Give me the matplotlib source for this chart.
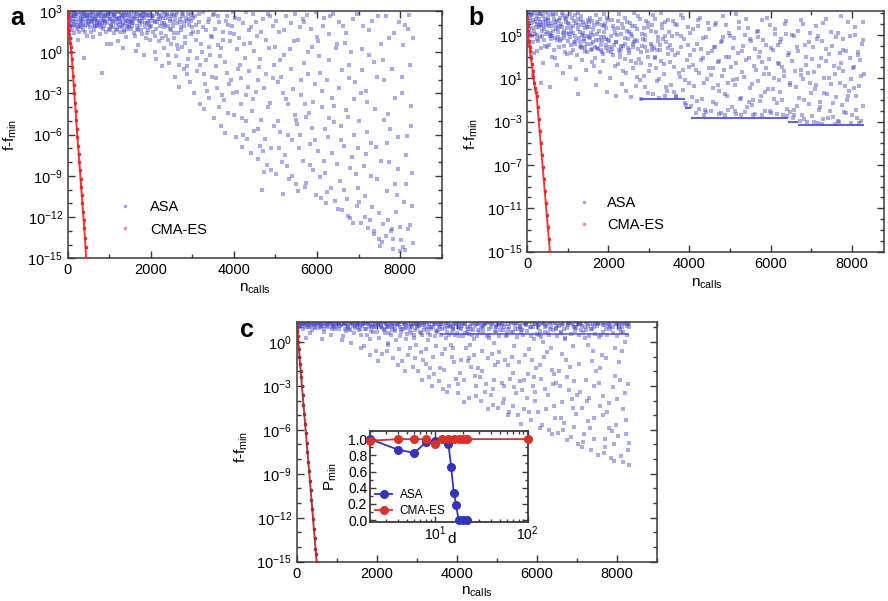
#libs
import matplotlib.pyplot as plt
import numpy as np
from matplotlib.ticker import (FixedLocator, LogLocator, NullFormatter,
                               MultipleLocator, LogFormatterSciNotation)
from matplotlib.lines import Line2D

plt.rcParams['font.family'] = ['Liberation Sans', 'DejaVu Sans']
plt.rcParams['mathtext.fontset'] = 'custom'
plt.rcParams['mathtext.rm'] = 'Liberation Sans'
plt.rcParams['mathtext.it'] = 'Liberation Sans:italic'

# ---------------- data (x = n_calls, e = log10(f - f_min)) ----------------
# panel a, ASA evaluations
asa_a = [
    (20,2.9),(60,2.4),(90,2.7),(130,1.9),(170,2.6),(210,2.2),(240,2.9),(280,1.5),(310,2.5),(350,2.8),
    (380,2.0),(420,2.6),(460,1.2),(480,2.3),(150,2.0),(330,1.8),(250,0.9),(400,-0.4),(100,2.2),(440,2.9),
    (520,2.7),(560,2.2),(590,2.9),(630,1.6),(660,2.5),(700,2.0),(730,2.8),(770,1.3),(800,2.4),(820,-1.5),
    (850,2.7),(880,1.9),(910,2.3),(950,0.6),(970,2.6),(610,1.1),(750,2.1),(990,1.7),(680,2.8),(900,2.9),
    (1020,2.4),(1060,2.8),(1090,1.8),(1130,2.6),(1170,2.1),(1200,0.8),(1240,2.9),(1270,1.5),(1300,2.5),(1340,2.0),
    (1380,2.7),(1410,1.1),(1450,2.3),(1480,2.8),(1110,1.4),(1320,0.3),(1430,1.9),(1260,2.2),(1050,0.6),(1360,2.9),
    (1520,2.6),(1550,1.9),(1590,2.9),(1620,1.2),(1660,2.4),(1700,0.5),(1730,2.7),(1760,1.6),(1800,2.2),(1840,-0.2),
    (1870,2.8),(1900,1.4),(1940,2.3),(1970,0.9),(1580,2.1),(1690,1.7),(1820,2.9),(1950,2.0),(1640,0.1),(1880,1.0),
    (2020,2.7),(2050,1.5),(2090,2.2),(2120,-0.5),(2160,2.9),(2190,0.8),(2230,1.9),(2260,-1.0),(2300,2.5),(2330,0.3),
    (2370,1.2),(2400,2.8),(2440,-0.8),(2470,1.7),(2100,0.0),(2210,2.4),(2350,2.0),(2480,0.6),(2280,1.0),(2410,-0.2),
    (2520,2.8),(2550,1.0),(2590,-1.8),(2620,2.1),(2660,0.2),(2690,-2.5),(2730,1.6),(2760,2.6),(2800,-1.2),(2830,0.7),
    (2870,2.3),(2900,-0.5),(2940,-2.2),(2970,1.3),(2580,2.4),(2680,-0.9),(2790,1.9),(2880,-1.6),(2990,2.9),(2640,0.5),
    (3020,2.5),(3050,-3.0),(3090,0.9),(3120,-1.4),(3160,2.8),(3190,-3.8),(3230,0.0),(3260,1.8),(3300,-2.3),(3330,-0.6),
    (3370,2.2),(3400,-3.3),(3440,1.2),(3470,-1.8),(3080,2.0),(3180,-0.9),(3290,-4.1),(3410,0.4),(3490,2.7),(3140,1.5),
    (3520,-4.8),(3550,1.7),(3590,-2.6),(3620,2.6),(3660,-0.3),(3690,-5.4),(3730,0.9),(3760,-3.5),(3800,2.3),(3830,-1.5),
    (3870,-4.4),(3900,1.4),(3940,-2.0),(3970,2.9),(3580,-1.0),(3680,0.3),(3780,-5.9),(3850,2.0),(3990,-3.0),(3640,-4.0),
    (4020,2.5),(4050,-6.2),(4090,-1.2),(4120,1.0),(4160,-3.8),(4190,-6.9),(4230,2.1),(4260,-0.4),(4300,-5.0),(4330,-2.5),
    (4370,1.6),(4400,-7.3),(4440,-4.3),(4470,2.8),(4080,0.2),(4180,-1.9),(4290,-3.1),(4390,0.7),(4480,-5.7),(4210,-6.0),
    (4520,-2.9),(4550,1.2),(4590,-7.8),(4620,-0.5),(4660,-4.9),(4680,-10.0),(4700,2.4),(4740,-6.3),(4770,-1.6),(4800,-8.2),
    (4840,0.3),(4870,-3.7),(4900,-7.0),(4940,1.9),(4970,-5.4),(4580,-2.0),(4720,-8.7),(4820,2.8),(4960,-0.9),(4640,-6.8),
    (5020,-8.9),(5050,-2.2),(5090,1.5),(5120,-5.8),(5170,-10.3),(5200,-0.2),(5230,-7.5),(5260,2.6),(5300,-3.8),(5330,-9.2),
    (5370,-1.2),(5400,-6.4),(5440,0.8),(5470,-4.6),(5080,-7.0),(5180,-3.0),(5280,-8.3),(5380,2.1),(5490,-9.6),(5140,-1.8),
    (5520,-5.2),(5550,-10.1),(5590,1.8),(5620,-3.1),(5660,-7.9),(5690,-0.8),(5730,-9.5),(5760,2.7),(5800,-4.4),(5830,-6.7),
    (5870,0.4),(5900,-8.6),(5940,-2.3),(5970,-10.4),(5580,-6.0),(5680,2.2),(5790,-1.6),(5880,-5.5),(5990,1.1),(5710,-3.8),
    (6020,-7.2),(6050,-0.3),(6090,-10.6),(6120,-4.0),(6160,2.5),(6190,-8.8),(6230,-2.0),(6260,-6.2),(6300,1.3),(6330,-9.9),
    (6370,-3.3),(6400,-5.1),(6440,-10.8),(6470,0.6),(6080,-1.5),(6180,-7.9),(6290,-4.8),(6390,2.8),(6490,-8.1),(6210,-11.0),
    (6520,-2.6),(6550,-9.4),(6590,-11.5),(6620,1.9),(6660,-6.8),(6690,-4.2),(6730,-10.7),(6760,-0.9),(6800,-12.1),(6830,-7.6),
    (6870,2.4),(6900,-3.4),(6940,-8.9),(6970,-11.2),(6580,-5.4),(6680,0.7),(6780,-1.9),(6880,-6.0),(6990,-9.9),(6740,-11.9),
    (7020,-5.0),(7050,-12.4),(7090,0.2),(7120,-8.3),(7160,-10.5),(7190,-2.8),(7230,-12.8),(7260,1.6),(7300,-6.6),(7330,-11.3),
    (7370,-13.2),(7400,-4.1),(7440,-9.2),(7470,2.6),(7080,-1.3),(7180,-7.4),(7280,-12.2),(7380,-0.7),(7490,-13.6),(7210,-3.6),
    (7520,-14.1),(7550,-7.9),(7590,-12.5),(7620,-2.0),(7660,-13.4),(7690,-10.1),(7730,1.0),(7760,-5.6),(7800,-12.9),(7830,-14.3),
    (7870,-3.3),(7900,-11.6),(7940,-8.5),(7970,2.2),(7580,-0.6),(7680,-6.6),(7780,-13.0),(7880,-9.6),(7990,-14.5),(7710,-4.5),
    (8020,-13.7),(8050,-1.8),(8090,-10.9),(8120,-14.4),(8160,-6.1),(8190,1.7),(8230,-12.6),(8260,-3.9),(8290,-8.8),(8300,-13.9),
    (8070,0.5),(8140,-7.5),(8210,2.7),(8280,-11.2),
    (30,2.1),(75,2.6),(115,1.6),(185,2.8),(225,1.7),(295,2.2),(365,2.4),(410,1.5),(455,2.7),(495,2.0),
    (540,1.8),(575,2.5),(645,2.2),(715,1.9),(785,2.6),(835,2.1),(865,2.4),(925,1.5),(960,2.9),(1035,2.0),
    (1075,2.5),(1145,2.9),(1190,1.7),(1225,2.5),(1285,2.7),(1355,1.6),(1395,2.3),(1465,2.0),(1535,2.3),(1610,2.6),
    (1675,2.9),(1745,2.0),(1785,2.5),(1855,1.8),(1925,2.6),(2075,2.3),(2140,2.8),(2245,2.6),(2320,2.1),(2390,2.7),
    (2460,2.4),(2540,2.2),(2610,2.7),(2700,2.4),(2750,2.9),(2850,2.5),(2920,2.0),(2960,2.7),
]
asa_a_more = [
    (12,2.3),(47,1.8),(83,2.9),(108,2.5),(142,2.8),(163,1.4),(197,2.4),(233,2.0),(263,2.7),(291,1.9),
    (323,2.9),(343,2.3),(373,1.6),(397,2.8),(433,2.2),(467,2.6),(503,2.4),(533,2.9),(553,1.5),(583,2.3),
    (617,2.8),(653,1.9),(673,2.6),(707,2.3),(743,2.7),(777,2.0),(813,2.9),(843,1.7),(873,2.6),(897,2.2),
    (937,2.7),(983,2.4),(1013,2.9),(1043,1.9),(1083,2.3),(1123,2.8),(1157,1.6),(1183,2.4),(1217,2.9),(1253,1.8),
    (1293,2.2),(1313,2.8),(1347,1.5),(1373,2.4),(1403,2.9),(1437,1.7),(1473,2.5),(1497,2.2),(1527,1.7),(1567,2.4),
    (1597,1.4),(1633,2.8),(1667,1.9),(1713,2.3),(1753,2.8),(1793,1.3),(1827,2.5),(1863,2.1),(1893,2.7),(1933,1.6),
    (1963,2.9),(1993,2.3),(2013,1.9),(2057,2.6),(2107,1.2),(2153,2.2),(2197,2.7),(2243,1.4),(2287,2.9),(2313,1.8),
    (2363,2.5),(2423,0.9),(2453,2.3),(2497,1.6),(2533,1.9),(2567,2.7),(2613,-0.3),(2653,1.4),(2697,2.2),(2743,0.4),
    (2783,2.8),(2817,1.1),(2863,-1.0),(2913,2.4),(2953,0.1),(2983,1.8),(3013,1.5),(3067,2.6),(3113,-0.4),(3153,2.2),
    (3213,0.6),(3253,2.9),(3283,-1.6),(3323,1.6),(3363,-2.8),(3393,2.4),(3433,-0.2),(3483,1.1),(3513,2.8),(3563,-1.9),
    (3613,0.5),(3653,2.2),(3703,-3.1),(3743,1.5),(3793,-0.7),(3843,2.6),(3883,-2.3),(3913,0.8),(3953,1.9),(3993,-4.6),
    (4013,1.3),(4063,-2.9),(4113,2.4),(4153,-0.9),(4203,-4.8),(4243,0.6),(4283,2.9),(4323,-6.3),(4363,-1.4),(4413,1.8),
    (4453,-3.4),(4493,0.1),(4533,2.2),(4573,-5.6),(4613,-1.1),(4653,1.5),(4693,-7.2),(4733,-2.6),(4783,0.9),(4813,-4.0),
    (4863,2.6),(4893,-8.6),(4933,-1.9),(4983,0.4),(5013,2.3),(5063,-5.0),(5113,-0.6),(5153,-8.0),(5213,1.6),(5243,-3.4),
    (5293,-6.0),(5343,0.2),(5393,-9.0),(5423,-2.7),(5463,2.8),(5493,-4.9),(5533,0.9),(5573,-7.0),(5613,-2.0),(5653,2.4),
    (5703,-9.8),(5743,-4.7),(5783,0.0),(5823,-8.2),(5863,1.7),(5913,-3.6),(5953,-6.4),(5983,2.9),(6013,0.8),(6063,-9.1),
    (6113,-2.8),(6153,1.9),(6203,-5.6),(6243,-10.2),(6283,-0.6),(6323,2.6),(6363,-7.3),(6413,-3.9),(6453,0.3),(6493,-11.4),
    (6533,2.2),(6573,-6.4),(6613,-1.3),(6653,-10.0),(6703,1.4),(6743,-4.7),(6793,-8.4),(6823,0.0),(6863,-12.4),(6913,-2.2),
    (6953,2.8),(6983,-7.0),(7013,-10.9),(7063,-3.0),(7113,1.9),(7153,-12.0),(7203,-5.8),(7243,-0.2),(7293,-9.0),(7323,2.3),
    (7363,-13.0),(7413,-6.9),(7453,-1.8),(7493,-11.7),(7533,0.6),(7573,-13.8),(7613,-4.9),(7653,2.6),(7703,-12.2),(7743,-8.0),
    (7793,-1.2),(7823,-13.6),(7863,1.4),(7913,-10.4),(7953,-6.2),(7993,-12.7),(8033,-3.0),(8073,-14.2),(8113,2.0),(8153,-9.6),
    (8193,-12.9),(8243,-0.9),(8273,-5.4),(8303,1.0),
    (7,2.6),(37,2.9),(67,1.9),(117,2.3),(157,2.6),(207,2.8),(247,1.8),(287,2.4),(317,2.1),(357,2.6),
    (387,2.9),(427,1.9),(477,2.5),(517,2.1),(567,2.7),(607,2.4),(637,1.9),(687,2.4),(727,2.2),(767,2.9),
    (807,1.8),(857,2.3),(907,2.6),(947,2.1),(977,2.8),(1027,1.6),(1067,2.2),(1117,2.7),(1167,2.4),(1207,2.0),
    (1247,2.5),(1307,1.9),(1337,2.6),(1387,2.1),(1427,2.7),(1477,1.8),(1517,2.9),(1557,2.2),(1607,2.5),(1657,1.6),
    (1707,2.6),(1747,2.3),(1807,2.6),(1847,2.9),(1897,2.1),(1947,2.7),(1987,1.8),(2037,2.5),(2127,1.7),(2177,2.4),
    (2267,2.1),(2337,2.8),(2407,1.9),(2477,2.6),(2557,1.4),(2627,2.9),(2717,1.8),(2807,2.2),(2897,2.8),(2977,2.3),
]
# panel a, CMA-ES evaluations
cma_a_x = [0, 2, 5, 10, 18, 28, 40, 52, 64, 76, 88, 100, 115, 130, 145, 160, 175, 190,
           205, 220, 235, 250, 265, 280, 295, 310, 325, 340, 355, 370, 385, 400, 415, 430, 443]
cma_a_e = [3.0, 2.7, 2.4, 2.1, 1.9, 1.6, 1.3, 1.0, 0.7, 0.4, 0.0, -0.5, -1.1, -1.7, -2.4, -3.0, -3.7, -4.3,
           -4.9, -5.6, -6.2, -6.8, -7.4, -8.0, -8.6, -9.2, -9.8, -10.4, -11.0, -11.6, -12.2, -12.8, -13.5, -14.2, -15.0]

# panel b, ASA evaluations
asa_b = [
    (20,6.8),(60,5.2),(90,6.1),(130,4.3),(170,7.0),(210,5.7),(240,3.5),(280,6.5),(310,4.8),(350,6.9),
    (380,2.4),(420,5.5),(460,6.3),(480,3.9),(150,1.3),(330,0.6),(250,6.0),(400,4.5),(100,3.0),(440,7.1),
    (520,6.6),(560,0.2),(590,5.0),(630,6.8),(660,3.6),(700,5.9),(730,2.2),(770,6.4),(800,4.4),(850,7.0),
    (880,1.5),(910,5.4),(950,6.2),(970,3.2),(610,4.9),(750,5.6),(990,6.7),(680,2.9),(900,4.0),(540,5.8),
    (1020,5.1),(1060,6.9),(1090,3.3),(1130,5.8),(1170,4.2),(1200,0.9),(1240,6.5),(1254,-0.5),(1300,5.3),(1340,2.7),
    (1380,6.2),(1410,4.6),(1450,1.8),(1480,5.7),(1110,6.6),(1320,4.0),(1430,3.5),(1260,7.0),(1050,2.0),(1360,5.0),
    (1520,4.8),(1550,6.6),(1590,2.5),(1620,5.5),(1660,3.9),(1700,0.4),(1730,6.2),(1760,4.5),(1800,1.6),(1840,5.9),
    (1870,3.2),(1900,6.9),(1940,4.1),(1970,-0.3),(1580,5.2),(1690,6.8),(1820,3.6),(1950,5.6),(1640,2.1),(1880,4.8),
    (2020,4.4),(2050,1.0),(2090,6.4),(2120,3.1),(2160,5.2),(2190,-0.6),(2230,2.3),(2260,6.9),(2300,4.0),(2330,0.5),
    (2370,5.6),(2400,2.8),(2440,-0.2),(2470,6.2),(2100,3.7),(2210,5.0),(2350,1.7),(2480,4.6),(2280,3.3),(2410,6.6),
    (2520,3.6),(2550,-0.7),(2590,5.8),(2620,1.9),(2660,4.5),(2690,0.3),(2730,6.7),(2760,2.8),(2800,-0.9),(2830,5.1),
    (2870,1.2),(2900,3.9),(2940,6.3),(2970,-0.4),(2580,4.9),(2680,2.4),(2790,0.8),(2880,5.6),(2990,3.0),(2640,7.0),
    (3020,2.2),(3050,5.4),(3090,-0.5),(3120,3.8),(3160,6.5),(3190,0.7),(3230,4.4),(3260,-0.8),(3300,2.6),(3330,6.0),
    (3370,1.4),(3400,4.9),(3440,-0.2),(3470,3.2),(3080,5.9),(3180,1.9),(3290,7.0),(3410,0.2),(3490,5.3),(3140,3.0),
    (3520,4.1),(3550,0.4),(3590,6.3),(3620,2.0),(3660,-0.6),(3690,5.1),(3730,3.3),(3760,1.1),(3800,6.8),(3830,-0.1),
    (3870,4.6),(3900,-1.3),(3940,2.7),(3970,5.7),(3580,3.6),(3680,-0.7),(3780,4.9),(3850,1.8),(3990,0.6),(3640,6.0),
    (4020,3.1),(4050,-1.6),(4090,5.5),(4120,0.3),(4160,-2.2),(4190,4.2),(4230,1.5),(4260,6.6),(4300,-0.9),(4330,2.9),
    (4370,-2.4),(4400,4.8),(4440,0.9),(4470,6.1),(4080,2.2),(4180,-1.1),(4290,3.7),(4390,-1.9),(4480,1.9),(4210,5.8),
    (4520,-2.0),(4550,3.5),(4590,0.1),(4620,5.9),(4660,-1.4),(4700,2.5),(4740,-2.3),(4770,4.3),(4800,1.2),(4840,6.7),
    (4870,-0.5),(4900,3.0),(4940,-1.9),(4970,5.2),(4580,1.9),(4720,-0.2),(4820,4.8),(4960,0.6),(4640,3.9),(4880,-2.4),
    (5020,2.0),(5050,-1.7),(5090,4.7),(5120,0.4),(5160,-2.3),(5200,3.3),(5230,6.2),(5260,-0.8),(5300,1.6),(5330,4.0),
    (5370,-2.1),(5400,2.7),(5440,5.6),(5470,-1.2),(5080,3.8),(5180,0.9),(5280,-2.4),(5380,5.0),(5490,0.1),(5140,6.9),
    (5520,4.4),(5550,-1.5),(5590,2.1),(5620,-2.3),(5660,5.3),(5690,0.7),(5730,3.4),(5760,-0.6),(5800,6.4),(5830,1.4),
    (5870,-2.0),(5900,4.1),(5940,0.0),(5970,2.8),(5580,-1.0),(5680,4.8),(5790,-2.4),(5880,1.9),(5990,5.9),(5710,3.0),
    (6020,-2.2),(6050,3.6),(6090,1.0),(6120,5.5),(6160,-1.3),(6190,2.4),(6230,-0.3),(6260,4.6),(6300,-2.4),(6330,1.7),
    (6370,6.3),(6400,-1.8),(6440,3.1),(6470,0.4),(6080,-0.9),(6180,4.1),(6290,2.0),(6390,5.1),(6490,-2.1),(6210,0.8),
    (6520,2.6),(6550,-2.7),(6590,4.9),(6620,0.2),(6660,-1.6),(6690,3.5),(6730,-2.9),(6760,1.3),(6800,6.0),(6830,-1.0),
    (6870,2.2),(6900,-3.0),(6940,4.3),(6970,0.6),(6580,-1.9),(6680,5.4),(6780,-2.4),(6880,3.0),(6990,-0.4),(6740,1.8),
    (7020,-2.5),(7050,3.9),(7090,0.0),(7120,5.8),(7160,-3.1),(7190,2.1),(7230,-1.2),(7260,4.4),(7300,-2.8),(7330,1.0),
    (7370,6.5),(7400,-0.5),(7440,3.2),(7470,-2.0),(7080,1.6),(7180,4.9),(7280,-3.2),(7380,2.6),(7490,0.5),(7210,-1.7),
    (7520,4.0),(7550,-2.6),(7590,1.4),(7620,-0.7),(7660,5.2),(7690,-3.0),(7730,2.4),(7760,-1.5),(7800,3.6),(7830,0.3),
    (7870,-2.2),(7900,6.2),(7940,-0.2),(7970,2.9),(7580,-3.2),(7680,1.9),(7780,4.6),(7880,-1.0),(7990,0.9),(7710,3.3),
    (8020,-2.4),(8050,2.0),(8090,5.0),(8120,-0.6),(8160,3.4),(8190,-3.1),(8230,1.2),(8260,4.2),(8290,-1.6),(8070,0.1),
    (8140,-2.7),(8210,2.7),(8280,6.2),
    (35,5.5),(70,6.6),(120,4.9),(190,6.2),(230,5.0),(270,7.0),(340,5.9),(390,6.7),(450,5.1),(500,6.4),
    (580,4.6),(620,5.8),(700,6.9),(760,4.8),(830,6.0),(870,5.2),(930,6.6),(1000,4.4),(1070,5.6),(1140,4.3),
    (1210,6.1),(1280,4.7),(1350,5.9),(1420,3.9),(1490,6.4),(1560,4.2),(1630,5.0),(1710,3.8),(1780,5.4),(1850,4.4),
    (1920,6.0),(1990,3.5),(2060,4.9),(2150,4.1),(2240,5.6),(2320,3.7),(2420,4.7),(2520,5.3),(2610,3.9),(2700,4.4),
    (2820,4.0),(2910,5.0),(3050,4.2),(3200,3.6),(3350,4.6),
]
asa_b_more = [
    (12,6.1),(47,4.2),(83,6.9),(108,5.6),(142,6.4),(163,3.3),(197,5.1),(233,6.7),(263,4.4),(291,5.9),
    (323,6.9),(343,3.8),(373,5.4),(397,6.2),(433,4.0),(467,5.9),(503,6.9),(533,4.1),(553,5.2),(583,6.1),
    (617,3.0),(653,6.5),(673,4.7),(707,5.5),(743,6.3),(777,3.9),(813,5.8),(843,4.6),(873,6.8),(897,5.0),
    (937,3.4),(983,5.6),(1013,6.1),(1043,4.8),(1083,5.3),(1123,3.6),(1157,6.3),(1183,4.9),(1217,3.1),(1253,5.5),
    (1293,4.3),(1313,6.7),(1347,3.8),(1373,5.2),(1403,4.4),(1437,6.0),(1473,3.4),(1497,4.9),(1527,5.7),(1567,3.6),
    (1597,6.3),(1633,4.3),(1667,2.9),(1713,5.1),(1753,3.7),(1793,6.5),(1827,4.1),(1863,2.6),(1893,5.3),(1933,3.8),
    (1963,6.6),(1993,4.5),(2057,3.4),(2107,5.8),(2153,2.1),(2197,4.3),(2243,6.3),(2287,3.0),(2313,5.1),(2363,4.0),
    (2423,1.5),(2453,5.4),(2497,3.3),(2533,6.1),(2567,2.6),(2613,4.2),(2653,5.8),(2697,1.1),(2743,3.7),(2783,6.5),
    (2817,2.4),(2863,4.6),(2913,0.2),(2953,3.5),(2983,5.7),(3013,1.7),(3067,4.0),(3113,6.8),(3153,2.9),(3213,4.8),
    (3253,0.9),(3283,3.6),(3323,5.6),(3363,2.3),(3393,-0.6),(3433,4.3),(3483,6.4),(3513,2.5),(3563,4.9),(3613,-0.3),
    (3653,3.1),(3703,5.9),(3743,1.5),(3793,3.9),(3843,6.6),(3883,0.8),(3913,-1.5),(3953,4.1),(3993,2.0),(4013,5.2),
    (4063,-0.7),(4113,3.6),(4153,1.8),(4203,6.4),(4243,-1.8),(4283,2.7),(4323,4.7),(4363,0.6),(4413,-2.1),(4453,3.3),
    (4493,5.5),(4533,1.3),(4573,-1.2),(4613,3.9),(4653,6.1),(4693,0.4),(4733,2.6),(4783,-2.2),(4813,4.4),(4863,1.8),
    (4893,5.9),(4933,-0.6),(4983,3.0),(5013,4.9),(5063,0.8),(5113,-2.0),(5153,2.4),(5213,5.6),(5243,-0.9),(5293,3.5),
    (5343,1.1),(5393,6.5),(5423,-1.7),(5463,2.9),(5493,4.6),(5533,0.5),(5573,-2.4),(5613,3.7),(5653,1.8),(5703,5.4),
    (5743,-1.1),(5783,2.5),(5823,4.5),(5863,-0.3),(5913,6.6),(5953,1.4),(5983,-2.0),(6013,3.8),(6063,0.0),(6113,5.1),
    (6153,-2.3),(6203,2.3),(6243,4.3),(6283,-1.0),(6323,1.2),(6363,6.0),(6413,-2.5),(6453,3.3),(6493,0.6),(6533,5.0),
    (6573,-2.4),(6613,1.7),(6653,3.9),(6703,-0.8),(6743,6.4),(6793,0.9),(6823,-2.8),(6863,4.1),(6913,1.5),(6953,-1.4),
    (6983,5.2),(7013,2.8),(7063,-3.0),(7113,0.4),(7153,4.6),(7203,-1.9),(7243,2.9),(7293,6.1),(7323,-0.4),(7363,3.7),
    (7413,-2.7),(7453,1.0),(7493,5.3),(7533,-1.3),(7573,2.1),(7613,4.8),(7653,-2.9),(7703,0.6),(7743,6.7),(7793,1.7),
    (7823,-2.1),(7863,3.5),(7913,-0.6),(7953,4.9),(7993,-3.1),(8033,1.9),(8073,5.7),(8113,-1.9),(8153,3.1),(8193,0.3),
    (8243,-2.9),(8273,4.5),(8303,1.4),
    (7,7.0),(37,6.3),(67,5.0),(117,6.8),(157,5.4),(207,6.5),(247,4.6),(287,5.7),(317,6.2),(357,4.9),
    (387,5.8),(427,6.5),(477,5.3),(517,6.0),(567,4.9),(607,6.9),(637,5.4),(687,6.2),(727,4.5),(767,5.3),
    (807,6.6),(857,5.7),(907,4.7),(947,6.5),(977,5.2),(1027,6.0),(1067,4.1),(1117,5.2),(1167,6.8),(1207,4.5),
    (1247,5.9),(1307,3.9),(1337,6.4),(1387,4.9),(1427,5.6),(1477,4.2),(1517,6.2),(1557,4.7),(1607,3.7),(1657,5.9),
    (1707,4.5),(1747,6.0),(1807,4.8),(1847,3.4),(1897,5.8),(1947,4.6),(1987,6.4),(2037,3.9),(2127,5.5),(2177,4.3),
    (2267,3.6),(2337,6.0),(2407,4.2),(2477,3.8),(2557,5.1),(2627,4.3),(2717,5.5),(2807,3.4),(2897,4.5),(2977,6.1),
    (3067,3.6),(3167,5.3),(3267,4.1),(3387,6.2),(3467,3.8),
]
# panel b, ASA best-so-far floors (start, end, level)
floor_b_x0 = [2770, 3880, 4040, 6440, 6680]
floor_b_x1 = [3880, 4040, 6440, 6680, 8300]
floor_b_e = [-0.94, -1.77, -2.65, -3.0, -3.28]
# panel b, CMA-ES evaluations
cma_b_x = [0, 3, 8, 15, 25, 40, 55, 70, 90, 110, 130, 150, 170, 190, 210, 230, 255, 280,
           305, 330, 355, 380, 405, 430, 455, 480, 505, 530, 557]
cma_b_e = [6.6, 6.2, 5.8, 5.4, 5.0, 4.4, 3.9, 3.5, 2.9, 2.3, 1.7, 1.1, 0.6, 0.1, -0.3, -0.6, -1.7, -2.8,
           -3.9, -5.0, -6.1, -7.2, -8.3, -9.4, -10.5, -11.6, -12.7, -13.8, -15.0]

# panel c, ASA evaluations
asa_c = [
    (30,1.3),(80,1.1),(120,1.25),(170,0.9),(210,1.3),(260,1.15),(300,1.0),(350,1.3),(390,0.8),(430,1.2),
    (470,1.05),(150,1.35),(330,0.6),(240,0.3),
    (520,1.2),(560,0.95),(600,1.3),(650,1.1),(690,0.7),(730,1.25),(780,1.0),(820,1.3),(860,0.5),(900,1.15),
    (950,0.85),(980,1.3),(640,0.2),(880,1.0),
    (1020,1.3),(1060,0.9),(1100,1.15),(1150,0.4),(1190,1.25),(1230,0.75),(1280,1.05),(1320,1.3),(1360,-0.1),(1400,1.1),
    (1440,0.6),(1480,1.25),(1120,0.1),(1300,0.9),(1420,1.35),
    (1520,1.0),(1560,1.3),(1600,0.5),(1650,1.2),(1690,-0.3),(1730,0.9),(1780,1.3),(1820,0.2),(1860,1.1),(1900,0.7),
    (1950,1.25),(1980,-0.6),(1580,0.9),(1700,1.35),(1880,1.05),(1760,0.45),
    (2020,1.3),(2060,0.3),(2100,1.1),(2140,-0.8),(2190,0.8),(2230,1.25),(2270,-0.2),(2310,1.0),(2350,0.5),(2400,-1.1),
    (2440,1.2),(2480,0.1),(2080,1.35),(2210,0.6),(2330,1.3),(2460,0.9),(2250,-0.6),(2370,1.1),
    (2520,1.2),(2560,-0.5),(2600,0.9),(2640,-1.3),(2690,1.3),(2730,0.2),(2770,-0.9),(2810,1.1),(2850,0.6),(2900,-1.7),
    (2940,1.25),(2980,-0.2),(2580,0.4),(2710,1.0),(2830,-0.4),(2960,0.8),(2660,1.35),(2880,1.2),(2750,0.55),(2920,0.3),
    (3020,-2.0),(3060,1.1),(3100,-0.7),(3140,0.5),(3190,1.3),(3230,-1.5),(3270,0.1),(3310,-2.4),(3350,0.9),(3400,-1.0),
    (3440,1.2),(3480,-0.3),(3080,0.7),(3210,1.0),(3330,-1.8),(3460,0.4),(3160,-1.2),(3380,1.35),(3040,1.25),(3290,0.6),
    (3420,-2.2),
    (3520,0.8),(3560,-2.7),(3600,1.2),(3640,-0.8),(3690,-1.9),(3730,0.3),(3770,1.3),(3810,-3.0),(3850,-0.2),(3900,0.9),
    (3940,-1.4),(3980,-2.5),(3580,1.0),(3710,-0.5),(3830,1.1),(3960,0.5),(3660,-3.2),(3870,-1.0),(3540,1.35),(3750,0.7),
    (3920,1.25),
    (4020,-3.5),(4060,0.4),(4100,-1.2),(4140,1.1),(4190,-2.6),(4230,-0.4),(4270,0.9),(4310,-3.8),(4350,-1.7),(4400,1.3),
    (4440,-0.9),(4480,-3.0),(4080,-2.1),(4210,0.6),(4330,-0.2),(4460,-2.3),(4160,1.25),(4370,0.5),(4040,1.0),(4290,-1.3),
    (4420,0.2),
    (4520,-1.8),(4560,0.7),(4600,-4.0),(4640,-0.6),(4690,1.2),(4730,-2.9),(4770,-1.1),(4810,0.3),(4850,-3.6),(4900,-4.3),
    (4940,-0.1),(4980,1.0),(4580,-2.4),(4710,-3.4),(4830,1.3),(4960,-1.6),(4660,0.9),(4870,-0.8),(4540,1.25),(4750,0.4),
    (4920,-2.6),
    (5020,-4.5),(5060,-0.7),(5100,1.1),(5140,-2.8),(5190,-3.9),(5230,0.4),(5270,-1.6),(5310,-4.8),(5350,1.3),(5400,-2.1),
    (5440,-0.3),(5480,-3.5),(5080,0.8),(5210,-1.2),(5330,-2.5),(5460,0.9),(5160,-4.2),(5380,-1.0),(5040,1.25),(5250,0.6),
    (5420,-3.1),
    (5520,-5.0),(5560,-1.4),(5600,0.6),(5640,-3.3),(5690,-4.6),(5730,1.2),(5770,-2.2),(5810,-0.5),(5850,-5.3),(5900,-3.0),
    (5940,0.2),(5980,-1.8),(5580,-2.7),(5710,-0.9),(5830,1.0),(5960,-4.0),(5660,1.3),(5870,-1.2),(5540,0.9),(5750,-3.8),
    (5920,-2.4),
    (6020,-4.8),(6060,0.5),(6100,-2.5),(6140,-5.7),(6190,-1.0),(6230,1.1),(6270,-3.6),(6310,-6.0),(6350,-0.4),(6400,-2.9),
    (6440,-4.4),(6480,0.9),(6080,-1.6),(6210,-3.2),(6330,1.3),(6460,-5.2),(6160,0.0),(6370,-1.9),(6040,1.25),(6250,-0.7),
    (6420,-2.2),(6290,0.6),
    (6520,-6.2),(6560,-2.0),(6600,0.7),(6640,-4.1),(6690,-5.5),(6730,-1.2),(6770,1.2),(6810,-3.3),(6850,-6.5),(6900,-0.3),
    (6940,-2.7),(6980,-4.9),(6580,-3.0),(6710,0.2),(6830,-1.7),(6960,1.0),(6660,-6.0),(6870,-3.9),(6540,1.3),(6750,-2.4),
    (6920,-5.8),(6620,-0.8),
    (7020,-7.0),(7060,-1.5),(7100,0.8),(7140,-4.5),(7190,-6.3),(7230,-2.6),(7270,1.1),(7310,-3.8),(7350,-7.4),(7400,-0.6),
    (7440,-5.2),(7480,-2.0),(7080,-3.4),(7210,0.3),(7330,-5.9),(7460,1.3),(7160,-6.8),(7370,-1.3),(7040,1.2),(7250,-4.0),
    (7420,-3.0),(7290,-0.2),
    (7520,-7.7),(7560,-2.8),(7600,0.5),(7640,-5.0),(7690,-6.6),(7730,-1.1),(7770,1.2),(7810,-4.2),(7850,-7.9),(7900,-3.1),
    (7940,-0.4),(7980,-5.7),(7580,-1.8),(7710,-7.2),(7830,0.9),(7960,-2.3),(7660,-3.7),(7870,-6.1),(7540,1.3),(7750,-4.8),
    (7920,-8.1),(7620,-0.9),
    (8020,-6.4),(8060,-1.4),(8100,0.7),(8140,-8.2),(8190,-3.5),(8230,-5.3),(8270,-7.4),(8300,-8.4),(8040,1.2),(8080,-2.6),
    (8160,-4.6),(8210,0.0),(8250,1.3),(8290,-6.9),(8120,-0.6),
    (100,1.2),(200,1.05),(280,1.3),(400,1.15),(540,1.3),(620,1.05),(760,1.2),(840,1.35),(930,1.1),(1040,1.2),
    (1180,1.3),(1260,1.0),(1380,1.2),(1460,0.95),(1540,1.25),(1640,1.1),(1720,1.3),(1840,1.2),(1930,1.0),(2040,1.15),
    (2120,0.95),(2200,1.3),(2290,1.1),(2380,0.8),(2500,1.3),(2570,1.05),(2650,0.85),(2740,1.2),(2860,1.0),(2990,1.3),
    (3070,1.15),(3180,0.8),(3260,1.3),(3360,1.05),(3470,0.75),(3560,1.2),(3620,0.9),(3720,1.3),(3800,1.0),(3890,0.6),
    (3990,1.2),(4070,0.95),(4120,1.3),(4250,0.7),(4340,1.1),(4450,1.3),(4530,0.8),(4620,1.15),(4720,1.3),(4800,0.9),
    (4890,1.2),(4990,0.65),(5070,1.3),(5170,1.0),(5290,1.2),(5360,0.7),(5470,1.3),(5570,1.1),(5630,0.8),(5740,1.3),
    (5850,1.0),(5950,1.2),(6070,0.75),(6120,1.3),(6200,1.05),(6320,0.9),(6410,1.3),(6500,1.1),(6610,1.3),(6690,0.85),
    (6790,1.15),(6880,1.3),(6990,0.95),(7070,1.3),(7130,1.1),(7240,0.8),(7340,1.25),(7430,1.0),(7510,1.3),(7650,1.15),
    (7720,0.9),(7800,1.3),(7890,1.05),(7990,1.25),(8070,0.85),(8150,1.3),(8240,1.1),(8300,1.3),
]
asa_c_more = [
    (12,1.2),(47,1.35),(63,1.0),(97,1.3),(137,1.1),(183,1.3),(227,1.2),(273,1.0),(313,1.25),(363,1.1),
    (413,1.3),(453,0.95),(497,1.2),(547,1.35),(587,1.1),(633,1.25),(677,0.9),(713,1.3),(757,1.1),(803,1.2),
    (853,1.35),(893,0.9),(943,1.25),(993,1.05),(1033,1.35),(1083,1.1),(1137,1.25),(1203,0.85),(1243,1.3),(1293,1.15),
    (1343,0.8),(1393,1.3),(1453,1.1),(1497,1.3),(1553,0.8),(1593,1.15),(1663,1.3),(1697,0.9),(1753,1.2),(1803,1.35),
    (1853,0.75),(1913,1.25),(1963,1.05),(2013,0.7),(2053,1.25),(2113,1.0),(2163,1.35),(2213,0.85),(2263,1.2),(2303,0.6),
    (2353,1.3),(2413,1.05),(2453,0.75),(2513,1.15),(2553,1.35),(2613,0.65),(2673,1.2),(2723,0.95),(2783,1.3),(2823,0.8),
    (2893,1.1),(2933,0.5),(2973,1.25),(3013,0.95),(3053,1.3),(3113,0.6),(3163,1.15),(3213,1.35),(3253,0.85),(3303,1.2),
    (3343,0.45),(3403,1.0),(3453,1.3),(3503,0.7),(3553,1.1),(3593,0.45),(3643,1.25),(3693,0.95),(3743,1.35),(3793,0.5),
    (3843,1.15),(3893,0.85),(3953,1.3),(4003,0.6),(4053,1.2),(4103,0.9),(4153,0.4),(4203,1.3),(4253,1.05),(4303,0.55),
    (4353,1.25),(4403,0.8),(4453,1.1),(4503,0.4),(4553,1.3),(4603,0.95),(4653,0.6),(4703,1.2),(4753,1.35),(4803,0.45),
    (4853,1.0),(4903,1.3),(4953,0.75),(5003,1.15),(5053,0.4),(5103,1.3),(5153,0.8),(5203,1.2),(5253,0.5),(5303,1.05),
    (5353,1.35),(5403,0.65),(5453,1.15),(5503,0.35),(5553,1.3),(5603,0.9),(5653,0.5),(5703,1.2),(5753,0.75),(5803,1.35),
    (5853,0.4),(5903,1.0),(5953,1.25),(6003,0.55),(6053,1.15),(6103,0.35),(6153,1.3),(6203,0.7),(6253,1.2),(6303,0.45),
    (6353,1.05),(6403,0.8),(6453,1.3),(6503,0.4),(6553,1.1),(6603,0.6),(6653,1.25),(6703,0.3),(6753,0.95),(6803,1.3),
    (6853,0.55),(6903,1.15),(6953,0.75),(7003,1.35),(7053,0.45),(7103,1.2),(7153,0.65),(7203,1.05),(7253,1.3),(7303,0.4),
    (7353,0.9),(7403,1.25),(7453,0.55),(7503,1.1),(7553,0.35),(7603,1.3),(7653,0.7),(7703,1.15),(7753,0.45),(7803,1.0),
    (7853,1.35),(7903,0.6),(7953,1.2),(8003,0.4),(8053,1.05),(8103,1.3),(8153,0.65),(8203,1.2),(8253,0.5),(8293,1.0),
    (1613,-0.4),(1843,-0.9),(2033,-1.3),(2283,-0.1),(2523,-1.6),(2713,-2.0),(2953,-1.1),(3133,-2.6),(3233,-0.5),(3373,-3.0),
    (3573,-1.8),(3763,-3.4),(3903,-0.4),(4033,-2.9),(4173,-4.1),(4313,-1.1),(4473,-3.7),(4623,-2.0),(4783,-4.6),(4913,-3.2),
    (5033,-1.4),(5173,-3.0),(5273,-5.0),(5413,-4.4),(5593,-5.6),(5673,-2.6),(5803,-4.8),(5953,-3.4),(6073,-5.9),(6223,-4.6),
    (6373,-6.3),(6483,-2.8),(6603,-5.2),(6743,-6.7),(6893,-4.5),(7003,-3.6),(7123,-7.2),(7283,-5.4),(7433,-6.6),(7573,-4.4),
    (7673,-7.6),(7793,-5.9),(7933,-7.0),(8013,-3.9),(8113,-7.8),(8223,-6.3),(8283,-2.9),
    (167,1.25),(317,1.35),(467,1.3),(617,1.2),(767,1.35),(917,1.25),(1067,1.3),(1217,1.2),(1367,1.35),(1517,1.15),
    (1667,1.25),(1817,1.05),(1967,1.3),(2117,1.25),(2267,1.0),(2417,1.3),(2567,1.2),(2717,1.35),(2867,1.25),(3017,1.1),
    (3167,1.3),(3317,1.0),(3467,1.2),(3617,1.35),(3767,1.1),(3917,1.0),(4067,1.3),(4217,1.2),(4367,0.9),(4517,1.25),
    (4667,1.1),(4817,1.35),(4967,1.0),(5117,1.2),(5267,0.9),(5417,1.3),(5567,1.0),(5717,1.15),(5867,1.3),(6017,1.0),
    (6167,1.2),(6317,1.35),(6467,0.95),(6617,1.15),(6767,1.3),(6917,1.05),(7067,1.2),(7217,1.35),(7367,0.9),(7517,1.2),
    (7667,1.3),(7817,1.1),(7967,1.35),(8117,1.0),(8267,1.2),
]
# panel c, dense ASA band level
band_c_x0, band_c_x1, band_c_e = 3570, 8300, 0.57
# panel c, CMA-ES evaluations
cma_c_x = [0, 2, 6, 12, 25, 40, 55, 70, 85, 100, 115, 130, 150, 170, 190, 210, 230, 250,
           270, 290, 310, 330, 350, 370, 390, 410, 430, 450, 470, 485, 498]
cma_c_e = [1.35, 1.0, 0.8, 0.7, 0.4, 0.0, -0.5, -1.0, -1.5, -2.0, -2.4, -3.0, -3.6, -4.3, -4.9, -5.6, -6.2, -6.9,
           -7.5, -8.2, -8.8, -9.5, -10.1, -10.8, -11.4, -12.1, -12.8, -13.4, -14.1, -14.5, -15.0]

# inset: success probability vs dimension
asa_d = [2, 4, 6, 8, 10, 14, 15, 16, 17, 18, 20, 22]
asa_p = [1.0, 0.87, 0.83, 0.96, 0.98, 0.94, 0.66, 0.33, 0.19, 0.0, 0.0, 0.0]
cma_d = [2, 4, 6, 8, 10, 12, 14, 16, 18, 20, 22, 100]
cma_p = [0.98, 1.0, 1.0, 1.0, 0.94, 1.0, 1.0, 1.0, 1.0, 1.0, 1.0, 1.0]

# ---------------- drawing ----------------
BLUE = '#4848cc'
RED = '#f02424'
DARKRED = '#a8282a'
SPINE = '#3a3a3a'

fig = plt.figure(figsize=(8.88, 6.01), dpi=100)


def style_main(ax, majors, xmax, ylo, yhi):
    ax.set_yscale('log')
    ax.set_xlim(0, xmax)
    ax.set_ylim(10.0 ** ylo, 10.0 ** yhi)
    ax.yaxis.set_major_locator(FixedLocator(majors))
    ax.yaxis.set_major_formatter(LogFormatterSciNotation())
    ax.yaxis.set_minor_locator(LogLocator(base=10, subs=[1.0], numticks=60))
    ax.yaxis.set_minor_formatter(NullFormatter())
    ax.xaxis.set_major_locator(MultipleLocator(2000))
    ax.xaxis.set_minor_locator(MultipleLocator(1000))
    ax.tick_params(which='both', direction='in', top=True, right=True,
                   labelsize=10.5, color=SPINE, width=1.0)
    ax.tick_params(which='major', length=5)
    ax.tick_params(which='minor', length=3)
    for s in ax.spines.values():
        s.set_color(SPINE)
        s.set_linewidth(1.1)
    ax.set_xlabel(r'n$_\mathregular{calls}$', fontsize=11)
    ax.set_ylabel(r'f-f$_\mathregular{min}$', fontsize=11)


def draw_asa(ax, *sets):
    arr = np.array([p for s in sets for p in s], dtype=float)
    ax.scatter(arr[:, 0], 10.0 ** arr[:, 1], s=8, marker='s', color=BLUE,
               alpha=0.45, linewidths=0, zorder=2)


def draw_cma(ax, x, e, color):
    ax.plot(x, 10.0 ** np.array(e), '-', color=color, lw=1.4, marker='s', ms=1.6,
            alpha=0.9, zorder=3)


def main_legend(ax, anchor, pad):
    handles = [Line2D([], [], ls='', marker='s', ms=1.6, color=BLUE, alpha=0.4),
               Line2D([], [], ls='', marker='s', ms=1.6, color=RED, alpha=0.4)]
    ax.legend(handles, ['ASA', 'CMA-ES'], loc='center left', bbox_to_anchor=anchor,
              frameon=False, fontsize=10.5, handlelength=1.0, handletextpad=pad,
              labelspacing=0.55, borderpad=0, borderaxespad=0)


# panel a
ax_a = fig.add_axes([0.0762, 0.5702, 0.4212, 0.4115])
draw_asa(ax_a, asa_a, asa_a_more)
draw_cma(ax_a, cma_a_x, cma_a_e, RED)
style_main(ax_a, [1e-15, 1e-12, 1e-9, 1e-6, 1e-3, 1e0, 1e3], 9000, -15, 3)
main_legend(ax_a, (0.134, 0.161), 1.2)
ax_a.xaxis.set_label_coords(0.5, -0.096)
ax_a.yaxis.set_label_coords(-0.13, 0.5)

# panel b
ax_b = fig.add_axes([0.5938, 0.5812, 0.4017, 0.4005])
draw_asa(ax_b, asa_b, asa_b_more)
ax_b.hlines(10.0 ** np.array(floor_b_e), floor_b_x0, floor_b_x1, color=BLUE,
            lw=1.5, alpha=0.85, zorder=2)
draw_cma(ax_b, cma_b_x, cma_b_e, RED)
style_main(ax_b, [1e-15, 1e-11, 1e-7, 1e-3, 1e1, 1e5], 8800, -15, 7.2)
main_legend(ax_b, (0.139, 0.157), 1.05)
ax_b.xaxis.set_label_coords(0.504, -0.105)
ax_b.yaxis.set_label_coords(-0.133, 0.49)

# panel c
ax_c = fig.add_axes([0.3341, 0.0654, 0.4057, 0.3993])
draw_asa(ax_c, asa_c, asa_c_more)
ax_c.hlines(10.0 ** band_c_e, band_c_x0, band_c_x1, color=BLUE, lw=1.3,
            alpha=0.8, zorder=2)
draw_cma(ax_c, cma_c_x, cma_c_e, DARKRED)
style_main(ax_c, [1e-15, 1e-12, 1e-9, 1e-6, 1e-3, 1e0], 9000, -15, 1.38)
ax_c.xaxis.set_label_coords(0.5, -0.097)
ax_c.yaxis.set_label_coords(-0.13, 0.478)

# inset in panel c
ax_in = fig.add_axes([0.4167, 0.1319, 0.1774, 0.1509])
ax_in.plot(asa_d, asa_p, '-o', color='#3434b8', lw=1.3, ms=5.5, label='ASA',
           clip_on=False, zorder=3)
ax_in.plot(cma_d, cma_p, '-o', color='#d8322a', lw=1.3, ms=5.5, label='CMA-ES',
           clip_on=False, zorder=4)
ax_in.set_xscale('log')
ax_in.set_xlim(2, 100)
ax_in.set_ylim(-0.02, 1.1)
ax_in.xaxis.set_major_locator(FixedLocator([10, 100]))
ax_in.xaxis.set_major_formatter(LogFormatterSciNotation())
ax_in.xaxis.set_minor_locator(LogLocator(base=10, subs=np.arange(2, 10), numticks=20))
ax_in.xaxis.set_minor_formatter(NullFormatter())
ax_in.yaxis.set_major_locator(MultipleLocator(0.2))
ax_in.yaxis.set_minor_locator(MultipleLocator(0.1))
ax_in.yaxis.set_major_formatter(plt.FormatStrFormatter('%.1f'))
ax_in.tick_params(which='both', direction='in', top=True, right=True,
                  labelsize=10, color=SPINE, width=1.0, pad=2)
ax_in.tick_params(which='major', length=4)
ax_in.tick_params(which='minor', length=2.5)
for s in ax_in.spines.values():
    s.set_color(SPINE)
    s.set_linewidth(1.3)
ax_in.set_xlabel('d', fontsize=11)
ax_in.xaxis.set_label_coords(0.52, -0.114)
ax_in.set_ylabel(r'P$_\mathregular{min}$', fontsize=11)
ax_in.yaxis.set_label_coords(-0.2, 0.5)
ax_in.legend(loc='center left', bbox_to_anchor=(0.03, 0.206), frameon=False,
             fontsize=8.5, handlelength=1.5, handletextpad=0.6, labelspacing=0.3,
             borderpad=0, borderaxespad=0)

# panel letters
fig.text(0.011, 0.958, 'a', fontsize=18, fontweight='bold', va='baseline')
fig.text(0.527, 0.958, 'b', fontsize=18, fontweight='bold', va='baseline')
fig.text(0.270, 0.440, 'c', fontsize=18, fontweight='bold', va='baseline')

fig.savefig('out.png', dpi=100)
